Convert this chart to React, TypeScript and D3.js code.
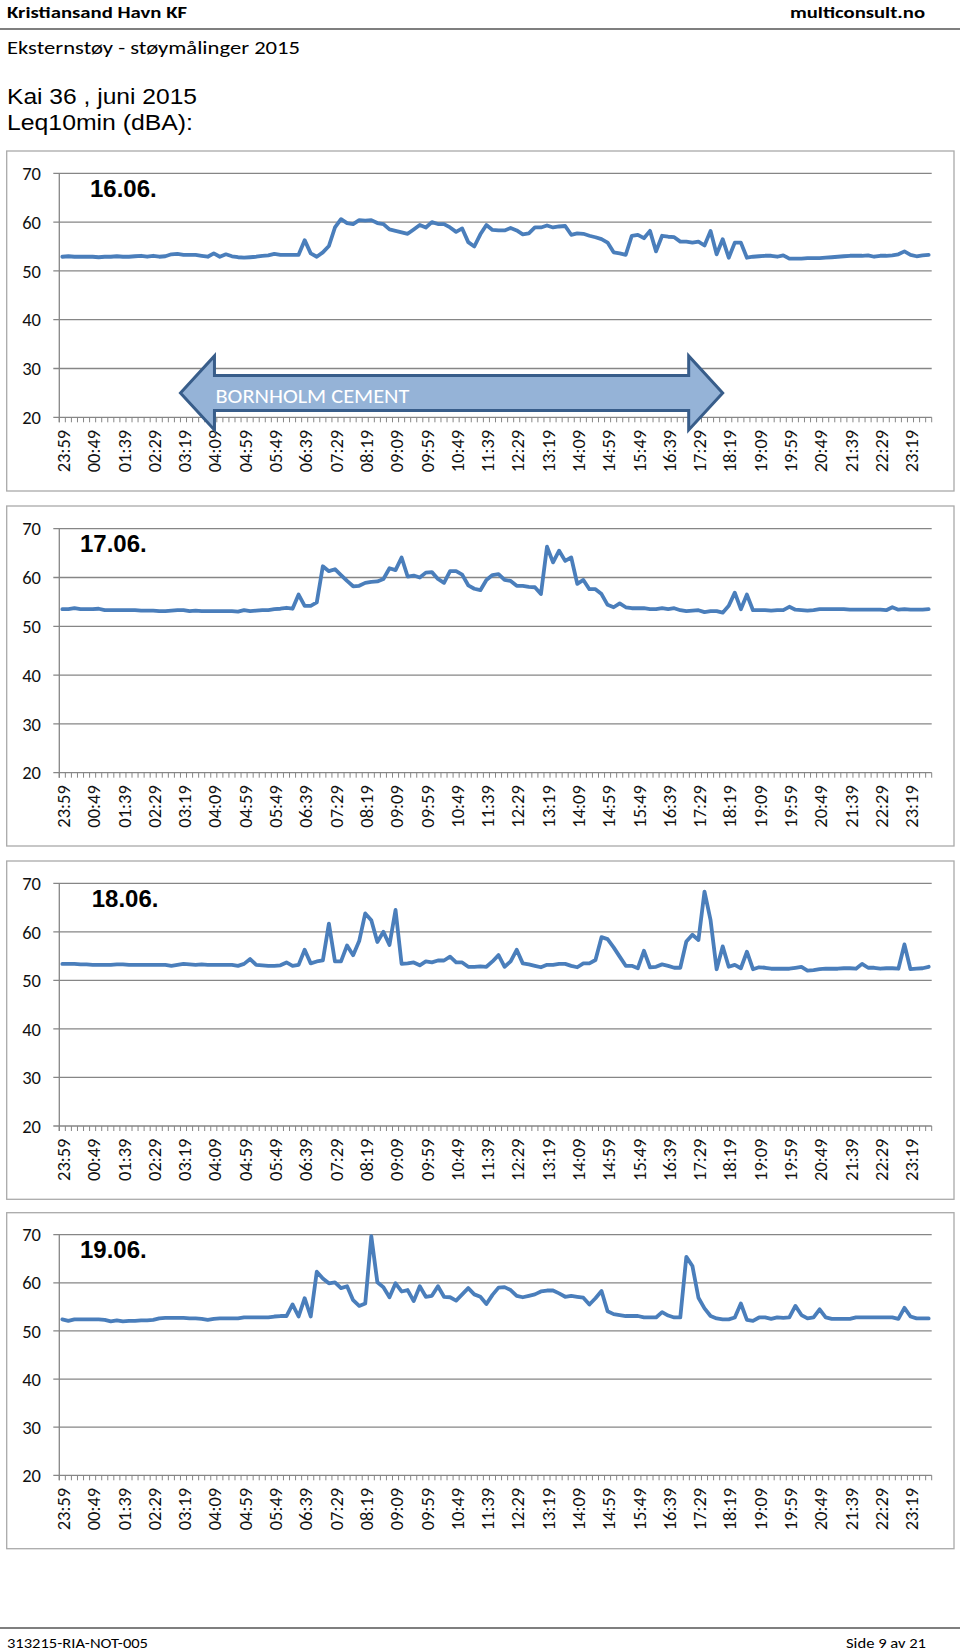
import React from "react";
import { scaleBand, scaleLinear, line } from "d3";

// category axis: one reading every 10 minutes
const times = [
  "23:59",
  "00:09", "00:19", "00:29", "00:39", "00:49", "00:59",
  "01:09", "01:19", "01:29", "01:39", "01:49", "01:59",
  "02:09", "02:19", "02:29", "02:39", "02:49", "02:59",
  "03:09", "03:19", "03:29", "03:39", "03:49", "03:59",
  "04:09", "04:19", "04:29", "04:39", "04:49", "04:59",
  "05:09", "05:19", "05:29", "05:39", "05:49", "05:59",
  "06:09", "06:19", "06:29", "06:39", "06:49", "06:59",
  "07:09", "07:19", "07:29", "07:39", "07:49", "07:59",
  "08:09", "08:19", "08:29", "08:39", "08:49", "08:59",
  "09:09", "09:19", "09:29", "09:39", "09:49", "09:59",
  "10:09", "10:19", "10:29", "10:39", "10:49", "10:59",
  "11:09", "11:19", "11:29", "11:39", "11:49", "11:59",
  "12:09", "12:19", "12:29", "12:39", "12:49", "12:59",
  "13:09", "13:19", "13:29", "13:39", "13:49", "13:59",
  "14:09", "14:19", "14:29", "14:39", "14:49", "14:59",
  "15:09", "15:19", "15:29", "15:39", "15:49", "15:59",
  "16:09", "16:19", "16:29", "16:39", "16:49", "16:59",
  "17:09", "17:19", "17:29", "17:39", "17:49", "17:59",
  "18:09", "18:19", "18:29", "18:39", "18:49", "18:59",
  "19:09", "19:19", "19:29", "19:39", "19:49", "19:59",
  "20:09", "20:19", "20:29", "20:39", "20:49", "20:59",
  "21:09", "21:19", "21:29", "21:39", "21:49", "21:59",
  "22:09", "22:19", "22:29", "22:39", "22:49", "22:59",
  "23:09", "23:19", "23:29", "23:39", "23:49",
];

const tickLabels = [
  "23:59", "00:49", "01:39", "02:29", "03:19", "04:09", "04:59", "05:49",
  "06:39", "07:29", "08:19", "09:09", "09:59", "10:49", "11:39", "12:29",
  "13:19", "14:09", "14:59", "15:49", "16:39", "17:29", "18:19", "19:09",
  "19:59", "20:49", "21:39", "22:29", "23:19",
];

const yTicks = [20, 30, 40, 50, 60, 70];

const dates = ["16.06.", "17.06.", "18.06.", "19.06."];

// Leq10min dBA
const leq1606 = [
  52.9, 53.0, 52.9, 52.9, 52.9, 52.9, 52.8, 52.9, 52.9, 53.0,
  52.9, 52.9, 53.0, 53.1, 52.9, 53.1, 52.9, 53.0, 53.4, 53.5,
  53.3, 53.3, 53.3, 53.1, 52.9, 53.6, 52.9, 53.4, 53.0, 52.8,
  52.7, 52.8, 52.9, 53.1, 53.2, 53.5, 53.3, 53.3, 53.3, 53.3,
  56.3, 53.6, 52.9, 53.8, 55.1, 58.9, 60.6, 59.8, 59.6, 60.4,
  60.3, 60.4, 59.8, 59.6, 58.5, 58.2, 57.9, 57.6, 58.5, 59.4,
  58.9, 60.0, 59.6, 59.6, 58.9, 58.0, 58.7, 55.9, 55.0, 57.5,
  59.4, 58.4, 58.3, 58.3, 58.8, 58.3, 57.5, 57.7, 58.9, 58.9,
  59.3, 58.9, 59.1, 59.2, 57.4, 57.7, 57.6, 57.2, 56.9, 56.5,
  55.8, 53.8, 53.6, 53.3, 57.2, 57.4, 56.7, 58.2, 54.0, 57.2,
  57.0, 56.9, 56.0, 56.0, 55.8, 56.0, 55.2, 58.2, 53.4, 56.5,
  52.7, 55.8, 55.8, 52.7, 52.9, 53.0, 53.1, 53.1, 52.9, 53.2,
  52.5, 52.5, 52.5, 52.6, 52.6, 52.6, 52.7, 52.8, 52.9, 53.0,
  53.1, 53.1, 53.1, 53.2, 52.9, 53.1, 53.1, 53.2, 53.4, 54.0,
  53.3, 53.0, 53.2, 53.3,
];

const leq1706 = [
  53.5, 53.5, 53.7, 53.5, 53.5, 53.5, 53.6, 53.3, 53.3, 53.3,
  53.3, 53.3, 53.3, 53.2, 53.2, 53.2, 53.1, 53.1, 53.2, 53.3,
  53.3, 53.1, 53.2, 53.1, 53.1, 53.1, 53.1, 53.1, 53.1, 53.0,
  53.3, 53.1, 53.2, 53.3, 53.3, 53.5, 53.6, 53.8, 53.6, 56.5,
  54.2, 54.2, 54.9, 62.3, 61.3, 61.7, 60.5, 59.3, 58.2, 58.3,
  58.9, 59.1, 59.2, 59.7, 61.9, 61.5, 64.1, 60.2, 60.4, 60.0,
  61.0, 61.1, 59.7, 58.9, 61.3, 61.3, 60.6, 58.4, 57.7, 57.4,
  59.5, 60.5, 60.7, 59.5, 59.3, 58.3, 58.3, 58.1, 58.0, 56.6,
  66.3, 63.1, 65.5, 63.4, 64.1, 58.7, 59.5, 57.6, 57.6, 56.6,
  54.4, 53.9, 54.7, 53.9, 53.7, 53.7, 53.7, 53.5, 53.5, 53.7,
  53.5, 53.7, 53.3, 53.1, 53.2, 53.3, 52.9, 53.1, 53.1, 52.8,
  54.2, 56.9, 53.5, 56.5, 53.3, 53.3, 53.3, 53.2, 53.3, 53.3,
  54.0, 53.4, 53.3, 53.2, 53.3, 53.5, 53.5, 53.5, 53.5, 53.5,
  53.4, 53.4, 53.4, 53.4, 53.4, 53.4, 53.3, 53.9, 53.4, 53.5,
  53.4, 53.4, 53.4, 53.5,
];

const leq1806 = [
  53.4, 53.4, 53.4, 53.3, 53.3, 53.2, 53.2, 53.2, 53.2, 53.3,
  53.3, 53.2, 53.2, 53.2, 53.2, 53.2, 53.2, 53.2, 53.0, 53.2,
  53.4, 53.3, 53.2, 53.3, 53.2, 53.2, 53.2, 53.2, 53.2, 53.0,
  53.4, 54.4, 53.2, 53.1, 53.0, 53.0, 53.1, 53.7, 53.0, 53.2,
  56.3, 53.5, 53.9, 54.1, 61.7, 53.9, 53.9, 57.2, 55.2, 58.1,
  63.8, 62.4, 57.9, 60.0, 57.3, 64.5, 53.4, 53.5, 53.7, 53.1,
  53.9, 53.7, 54.1, 54.1, 54.9, 53.7, 53.7, 52.8, 52.8, 52.9,
  52.8, 53.9, 55.2, 52.8, 53.9, 56.3, 53.5, 53.3, 53.0, 52.7,
  53.2, 53.2, 53.4, 53.4, 53.0, 52.7, 53.5, 53.5, 54.2, 58.9,
  58.5, 56.8, 54.9, 53.0, 53.0, 52.5, 56.1, 52.7, 52.8, 53.3,
  53.0, 52.6, 52.6, 58.0, 59.4, 58.3, 68.3, 62.4, 52.3, 57.0,
  52.8, 53.2, 52.5, 55.9, 52.3, 52.7, 52.6, 52.4, 52.4, 52.4,
  52.4, 52.6, 52.8, 52.0, 52.1, 52.3, 52.4, 52.4, 52.4, 52.5,
  52.5, 52.4, 53.4, 52.6, 52.6, 52.4, 52.5, 52.5, 52.4, 57.4,
  52.3, 52.4, 52.5, 52.8,
];

const leq1906 = [
  52.4, 52.1, 52.4, 52.4, 52.4, 52.4, 52.4, 52.3, 52.0, 52.2,
  52.0, 52.1, 52.1, 52.2, 52.2, 52.3, 52.6, 52.7, 52.7, 52.7,
  52.7, 52.6, 52.6, 52.5, 52.3, 52.5, 52.6, 52.6, 52.6, 52.6,
  52.8, 52.8, 52.8, 52.8, 52.8, 53.0, 53.1, 53.1, 55.5, 53.0,
  56.8, 53.0, 62.3, 60.9, 59.9, 60.1, 58.9, 59.3, 56.4, 55.2,
  55.7, 69.7, 60.1, 59.1, 57.0, 59.9, 58.2, 58.5, 56.2, 59.3,
  57.1, 57.3, 59.3, 57.1, 57.0, 56.3, 57.6, 58.9, 57.6, 57.1,
  55.6, 57.5, 59.0, 59.1, 58.5, 57.3, 57.0, 57.3, 57.6, 58.2,
  58.4, 58.4, 57.8, 57.1, 57.3, 57.1, 56.9, 55.5, 56.8, 58.3,
  54.1, 53.5, 53.3, 53.1, 53.1, 53.1, 52.8, 52.8, 52.8, 53.9,
  53.2, 52.8, 52.8, 65.4, 63.5, 56.9, 54.7, 53.1, 52.6, 52.4,
  52.4, 52.8, 55.7, 52.3, 52.1, 52.8, 52.8, 52.5, 52.8, 52.7,
  52.8, 55.2, 53.3, 52.6, 52.8, 54.5, 52.8, 52.5, 52.5, 52.5,
  52.5, 52.8, 52.8, 52.8, 52.8, 52.8, 52.8, 52.8, 52.5, 54.8,
  53.0, 52.6, 52.6, 52.6,
];

const series = [leq1606, leq1706, leq1806, leq1906];

// annotation on the first day
const arrowLabel = "BORNHOLM CEMENT";
const arrowFrom = "03:19";
const arrowTo = "18:09";
const arrowLevel = 25;

const W = 960;
const H = 1651;
const plotLeft = 59.3;
const plotRight = 931.7;

const layout = [
  { boxTop: 151, boxBottom: 491, top: 173.3, bottom: 417.3, dateX: 90 },
  { boxTop: 506, boxBottom: 846, top: 528.7, bottom: 772.7, dateX: 80 },
  { boxTop: 861, boxBottom: 1199.3, top: 883.3, bottom: 1126, dateX: 91.7 },
  { boxTop: 1212.7, boxBottom: 1548.7, top: 1234.7, bottom: 1475.3, dateX: 80 },
];

const calibri = "Carlito, Calibri, Lato, sans-serif";
const arial = "Arial, 'Liberation Sans', sans-serif";
const gridColor = "#868686";
const lineColor = "#4a7ebb";
const labelSize = 18.5;

const xScale = scaleBand<string>().domain(times).range([plotLeft, plotRight]);
const bw = xScale.bandwidth();
const cx = (t: string) => (xScale(t) as number) + bw / 2;

const DayChart = ({ idx }: { idx: number }) => {
  const l = layout[idx];
  const values = series[idx];
  const yScale = scaleLinear().domain([20, 70]).range([l.bottom, l.top]);
  const path = line<number>()
    .x((_, i) => cx(times[i]))
    .y((d) => yScale(d))(values);

  const boundaries = times.map((t) => xScale(t) as number).concat([plotRight]);

  let arrow = null;
  if (idx === 0) {
    const x0 = xScale(arrowFrom) as number;
    const x1 = cx(arrowTo);
    const yc = yScale(arrowLevel);
    const head = 34;
    const hh = 37;
    const sh = 17.5;
    const d = [
      [x0, yc],
      [x0 + head, yc - hh],
      [x0 + head, yc - sh],
      [x1 - head, yc - sh],
      [x1 - head, yc - hh],
      [x1, yc],
      [x1 - head, yc + hh],
      [x1 - head, yc + sh],
      [x0 + head, yc + sh],
      [x0 + head, yc + hh],
    ];
    arrow = (
      <g>
        <path
          d={"M" + d.map((p) => p.join(",")).join("L") + "Z"}
          fill="#95b3d7"
          stroke="#385d8a"
          strokeWidth={3}
          strokeLinejoin="miter"
        />
        <text
          x={x0 + head + 1}
          y={yc + 10}
          fill="#fff"
          fontFamily={calibri}
          fontSize={20.5}
          textLength={194}
          lengthAdjust="spacingAndGlyphs"
        >
          {arrowLabel}
        </text>
      </g>
    );
  }

  return (
    <g>
      <rect
        x={6.7}
        y={l.boxTop}
        width={954 - 6.7}
        height={l.boxBottom - l.boxTop}
        fill="#fff"
        stroke="#aaaaaa"
        strokeWidth={1.3}
      />
      {yTicks.map((v) => (
        <g key={v}>
          <line
            x1={plotLeft - 6}
            x2={plotRight}
            y1={yScale(v)}
            y2={yScale(v)}
            stroke={gridColor}
            strokeWidth={1.3}
          />
          <text
            x={41}
            y={yScale(v)}
            dy="0.36em"
            textAnchor="end"
            fontFamily={calibri}
            fontSize={labelSize}
            fill="#111"
          >
            {v}
          </text>
        </g>
      ))}
      <line
        x1={plotLeft}
        x2={plotLeft}
        y1={l.top}
        y2={l.bottom + 5}
        stroke={gridColor}
        strokeWidth={1.3}
      />
      {boundaries.map((bx, i) => (
        <line
          key={i}
          x1={bx}
          x2={bx}
          y1={l.bottom}
          y2={l.bottom + 5}
          stroke={gridColor}
          strokeWidth={1}
        />
      ))}
      {tickLabels.map((t) => (
        <text
          key={t}
          transform={`translate(${cx(t) + 1},${l.bottom + 12.5}) rotate(-90)`}
          dy="0.36em"
          textAnchor="end"
          fontFamily={calibri}
          fontSize={labelSize}
          fill="#111"
        >
          {t}
        </text>
      ))}
      <path
        d={path || ""}
        fill="none"
        stroke={lineColor}
        strokeWidth={3.8}
        strokeLinejoin="round"
        strokeLinecap="round"
      />
      <text
        x={l.dateX}
        y={l.top + 23.5}
        fontFamily={arial}
        fontWeight="bold"
        fontSize={24}
        fill="#000"
      >
        {dates[idx]}
      </text>
      {arrow}
    </g>
  );
};

export default function App() {
  return (
    <svg
      width={W}
      height={H}
      style={{ position: "absolute", left: 0, top: 0, background: "#fff" }}
    >
      <rect width={W} height={H} fill="#fff" />
      <text
        x={7}
        y={17.5}
        fontFamily={calibri}
        fontWeight="bold"
        fontSize={16.5}
        textLength={180}
        lengthAdjust="spacingAndGlyphs"
      >
        Kristiansand Havn KF
      </text>
      <text
        x={925}
        y={17.5}
        textAnchor="end"
        fontFamily={calibri}
        fontWeight="bold"
        fontSize={16.5}
        textLength={135}
        lengthAdjust="spacingAndGlyphs"
      >
        multiconsult.no
      </text>
      <line x1={0} x2={W} y1={29} y2={29} stroke="#7f7f7f" strokeWidth={2} />
      <text
        x={7}
        y={53.5}
        fontFamily={calibri}
        fontSize={18}
        textLength={293}
        lengthAdjust="spacingAndGlyphs"
      >
        Eksternstøy - støymålinger 2015
      </text>
      <text
        x={7}
        y={104}
        fontFamily={arial}
        fontSize={22}
        textLength={190}
        lengthAdjust="spacingAndGlyphs"
      >
        Kai 36 , juni 2015
      </text>
      <text
        x={7}
        y={130}
        fontFamily={arial}
        fontSize={22}
        textLength={186}
        lengthAdjust="spacingAndGlyphs"
      >
        Leq10min (dBA):
      </text>
      {series.map((_, i) => (
        <DayChart key={i} idx={i} />
      ))}
      <line x1={0} x2={W} y1={1628} y2={1628} stroke="#7f7f7f" strokeWidth={2} />
      <text
        x={7}
        y={1648}
        fontFamily={calibri}
        fontSize={15}
        textLength={141}
        lengthAdjust="spacingAndGlyphs"
      >
        313215-RIA-NOT-005
      </text>
      <text
        x={926}
        y={1648}
        textAnchor="end"
        fontFamily={calibri}
        fontSize={15}
        textLength={80}
        lengthAdjust="spacingAndGlyphs"
      >
        Side 9 av 21
      </text>
    </svg>
  );
}
